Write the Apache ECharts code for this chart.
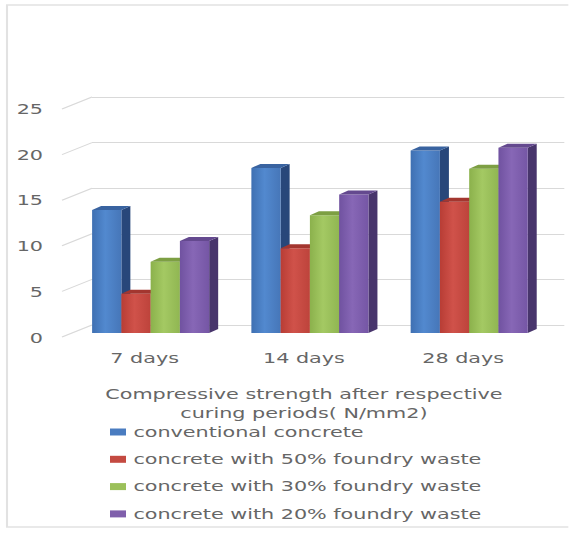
<!DOCTYPE html>
<html>
<head>
<meta charset="utf-8">
<title>Compressive strength</title>
<script src="https://cdn.jsdelivr.net/npm/echarts@6/dist/echarts.min.js"></script>
<style>
  html, body { margin: 0; padding: 0; background: #ffffff; overflow: hidden; }
  #frame { width: 569px; height: 534px; overflow: hidden; }
  #chart { height: 534px; transform-origin: 0 0; }
</style>
</head>
<body>
<div id="frame"><div id="chart"></div></div>
<script>
// Curing periods on the category axis
const categories = ['7 days', '14 days', '28 days'];

// Mix names, in legend order
const seriesNames = [
  'conventional concrete',
  'concrete with 50% foundry waste',
  'concrete with 30% foundry waste',
  'concrete with 20% foundry waste'
];

// Compressive strength (N/mm2) per curing period
const conventional = [13.5, 18.1, 20.0];
const foundry50 = [4.3, 9.3, 14.4];
const foundry30 = [7.8, 12.9, 18.0];
const foundry20 = [10.1, 15.2, 20.3];

// Value-axis ticks
const yTicks = [0, 5, 10, 15, 20, 25];

const seriesValues = [conventional, foundry50, foundry30, foundry20];

// The chart is laid out on a narrower canvas and widened with a CSS scaleX,
// giving the wide lettering of the original figure.
const STRETCH = 1.48;
const PAGE_W = 569;
function sx(v) { return v / STRETCH; }

const chartEl = document.getElementById('chart');
chartEl.style.width = sx(PAGE_W) + 'px';
chartEl.style.transform = 'scaleX(' + STRETCH + ')';

// Face colours of the 3D columns: front, top, side
const palette = [
  { front: ['#3f70b2', '#5289cf', '#4676b8'], top: '#3963a0', side: '#28477a', legend: '#4a7cc0' },
  { front: ['#b83d35', '#d0524a', '#bd433b'], top: '#a3362f', side: '#7e2924', legend: '#c44a41' },
  { front: ['#8bb14c', '#a4c963', '#90b652'], top: '#7d9f43', side: '#607c32', legend: '#9bc05a' },
  { front: ['#7052a0', '#8767b6', '#7556a5'], top: '#64498f', side: '#48356c', legend: '#7f5fab' }
];

const textColor = '#666666';
const fontFamily = 'DejaVu Sans';
const fontSize = 14;

const chart = echarts.init(chartEl, null, { renderer: 'svg' });

function barRenderer(s) {
  return function (params, api) {
    const ci = api.value(0);
    const v = api.value(1);
    const base = api.coord([ci, 0]);
    const top = api.coord([ci, v]);
    const band = api.size([1, 0])[0];
    const groupW = band * 0.735;
    const bw = groupW / 4;
    const dx = sx(9), dy = 4;
    const x0 = base[0] - groupW / 2 + s * bw;
    const x1 = x0 + bw;
    const yt = top[1], yb = base[1];
    const c = palette[s];
    return {
      type: 'group',
      children: [
        {
          type: 'polygon',
          shape: { points: [[x1, yt], [x1 + dx, yt - dy], [x1 + dx, yb - dy], [x1, yb]] },
          style: { fill: c.side }
        },
        {
          type: 'rect',
          shape: { x: x0, y: yt, width: bw, height: yb - yt },
          style: {
            fill: new echarts.graphic.LinearGradient(0, 0, 1, 0, [
              { offset: 0, color: c.front[0] },
              { offset: 0.45, color: c.front[1] },
              { offset: 1, color: c.front[2] }
            ])
          }
        },
        {
          type: 'polygon',
          shape: { points: [[x0, yt], [x0 + dx, yt - dy], [x1 + dx, yt - dy], [x1, yt]] },
          style: { fill: c.top }
        }
      ]
    };
  };
}

const barSeries = seriesNames.map(function (name, s) {
  return {
    name: name,
    type: 'custom',
    xAxisIndex: 1,
    yAxisIndex: 1,
    z: 10 + s,
    itemStyle: { color: palette[s].legend },
    renderItem: barRenderer(s),
    encode: { x: 0, y: 1 },
    data: categories.map(function (cat, i) { return [i, seriesValues[s][i]]; })
  };
});

// Slanted tick connectors from the front labels to the back wall
const connectorSeries = {
  type: 'custom',
  xAxisIndex: 0,
  yAxisIndex: 0,
  z: 2,
  silent: true,
  renderItem: function (params, api) {
    const p = api.coord([0, api.value(0)]);
    const left = params.coordSys.x;
    return {
      type: 'line',
      shape: { x1: left - sx(30), y1: p[1] + 12, x2: left, y2: p[1] },
      style: { stroke: '#d9d9d9', lineWidth: 1 }
    };
  },
  encode: { y: 0 },
  data: yTicks.map(function (t) { return [t]; })
};

const option = {
  backgroundColor: '#ffffff',
  animation: false,
  textStyle: { fontFamily: fontFamily },
  graphic: [
    {
      type: 'rect',
      shape: { x: sx(7), y: 5, width: sx(570), height: 522 },
      style: { fill: 'none', stroke: '#e2e2e2', lineWidth: 1.4 },
      silent: true
    }
  ],
  grid: [
    { left: sx(92), right: sx(4), top: 97, height: 228 },
    { left: sx(71), right: sx(19.5), top: 105, height: 228 },
    { left: sx(65), right: sx(25.5), top: 109, height: 229 }
  ],
  xAxis: [
    { type: 'category', gridIndex: 0, data: categories, show: false },
    { type: 'category', gridIndex: 1, data: categories, show: false },
    {
      type: 'category', gridIndex: 2, data: categories,
      axisLine: { show: false }, axisTick: { show: false },
      axisLabel: { color: textColor, fontSize: fontSize, margin: 13, fontFamily: fontFamily },
      name: 'Compressive strength after respective\ncuring periods( N/mm2)',
      nameLocation: 'middle',
      nameGap: 47,
      nameTextStyle: { color: textColor, fontSize: fontSize, lineHeight: 19, fontFamily: fontFamily, align: 'center' }
    }
  ],
  yAxis: [
    {
      type: 'value', gridIndex: 0, min: 0, max: 25, interval: 5,
      axisLine: { show: false }, axisTick: { show: false }, axisLabel: { show: false },
      splitLine: { show: true, lineStyle: { color: '#d9d9d9', width: 1 } }
    },
    {
      type: 'value', gridIndex: 1, min: 0, max: 25, interval: 5, show: false,
      splitLine: { show: false }
    },
    {
      type: 'value', gridIndex: 2, min: 0, max: 25, interval: 5,
      axisLine: { show: false }, axisTick: { show: false },
      splitLine: { show: false },
      axisLabel: { color: textColor, fontSize: fontSize, margin: sx(22), fontFamily: fontFamily }
    }
  ],
  legend: {
    orient: 'vertical',
    left: sx(110),
    top: 424,
    padding: 0,
    icon: 'rect',
    itemWidth: sx(16),
    itemHeight: 7,
    itemGap: 11.3,
    textStyle: { color: textColor, fontSize: fontSize, lineHeight: 16, fontFamily: fontFamily },
    data: seriesNames
  },
  series: [connectorSeries].concat(barSeries)
};

chart.setOption(option);
</script>
</body>
</html>
